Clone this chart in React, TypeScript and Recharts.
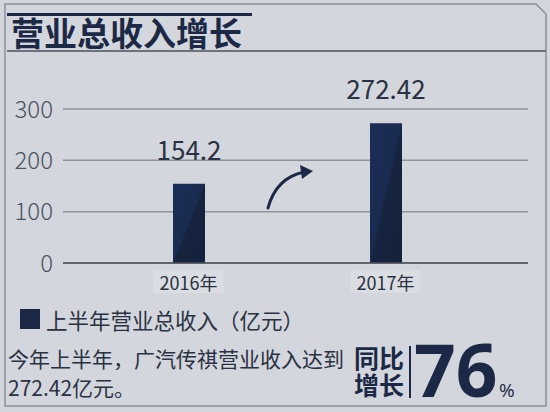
import { BarChart, Bar, XAxis, YAxis, CartesianGrid, LabelList, ReferenceLine } from 'recharts';

const years = ['2016年', '2017年'];
const revenue = [154.2, 272.42];
const yTicks = [0, 100, 200, 300];

const NAVY = '#1b2946';
const INK = '#2a3142';
const BG = '#d3d6dc';
const FONT = '"Noto Sans CJK SC", "Noto Sans", sans-serif';
const NUM_FONT = '"Open Sans", "Noto Sans", sans-serif';

const data = years.map((year, i) => ({ year, value: revenue[i] }));

function YearTick({ x, y, payload }: any) {
  return (
    <g>
      <rect x={x - 35} y={y - 1} width={70} height={23} fill="#dadde2" />
      <text x={x} y={y + 11} textAnchor="middle" dominantBaseline="central" fontSize={18} fill={INK} fontFamily={FONT}>
        {payload.value}
      </text>
    </g>
  );
}

export default function App() {
  return (
    <div style={{ position: 'absolute', left: 0, top: 0, width: 550, height: 412, background: BG, fontFamily: FONT, overflow: 'hidden' }}>
      <svg width={550} height={412} style={{ position: 'absolute', left: 0, top: 0 }}>
        <path d="M5,4 H536 L546,14 V406 H5 Z" fill="none" stroke="#8b9099" strokeWidth={1.5} />
        <rect x={7} y={13} width={245} height={3} fill={NAVY} />
        <line x1={7} y1={51} x2={546} y2={51} stroke="#4a505c" strokeWidth={1.5} />
        <path d="M268,208 Q276,178 304,172" fill="none" stroke={NAVY} strokeWidth={3} strokeLinecap="round" />
        <path d="M300,165 L313,171 L302,179 Z" fill={NAVY} />
        <line x1={410} y1={346} x2={410} y2={398} stroke={NAVY} strokeWidth={2} />
        <text x={354} y={368} fontSize={25} fontWeight={700} fill={NAVY} fontFamily={FONT}>同比</text>
        <text x={354} y={395} fontSize={25} fontWeight={700} fill={NAVY} fontFamily={FONT}>增长</text>
        <text x={414} y={397} fontSize={73} fontWeight={700} fill={NAVY} fontFamily={NUM_FONT}>76</text>
        <text x={499} y={397} fontSize={19} fill={NAVY} fontFamily={NUM_FONT}>%</text>
      </svg>

      <div style={{ position: 'absolute', left: 11, top: 12, fontSize: 33, fontWeight: 700, color: NAVY, lineHeight: '40px', whiteSpace: 'nowrap' }}>
        营业总收入增长
      </div>

      <div style={{ position: 'absolute', left: 0, top: 0 }}>
        <BarChart width={550} height={412} data={data} margin={{ top: 109, right: 22, bottom: 119, left: 8 }}>
          <defs>
            <linearGradient id="barFill" x1="0" y1="0" x2="1" y2="1">
              <stop offset="0%" stopColor="#1b2e57" />
              <stop offset="49%" stopColor="#1a2b50" />
              <stop offset="51%" stopColor="#16243f" />
              <stop offset="100%" stopColor="#14213c" />
            </linearGradient>
          </defs>
          <CartesianGrid vertical={false} stroke="#8e939c" strokeWidth={1.5} />
          <YAxis
            domain={[0, 300]}
            ticks={yTicks}
            width={55}
            tickLine={false}
            axisLine={false}
            tickMargin={4}
            tick={{ fontSize: 24, fill: '#4b5262', fontFamily: FONT, fontWeight: 300 }}
          />
          <XAxis
            dataKey="year"
            height={30}
            padding={{ left: 27, right: 44 }}
            tickLine={false}
            axisLine={false}
            tick={<YearTick />}
            interval={0}
          />
          <ReferenceLine y={0} stroke="#4a4f5a" strokeWidth={1.5} />
          <Bar dataKey="value" fill="url(#barFill)" barSize={32} isAnimationActive={false}>
            <LabelList dataKey="value" position="top" offset={24} fontSize={26} fill={INK} fontFamily={FONT} />
          </Bar>
        </BarChart>
      </div>

      <div style={{ position: 'absolute', left: 20, top: 309, width: 20, height: 20, background: NAVY }} />
      <div style={{ position: 'absolute', left: 46, top: 306, fontSize: 21.5, lineHeight: '28px', color: INK, whiteSpace: 'nowrap' }}>
        上半年营业总收入（亿元）
      </div>

      <div style={{ position: 'absolute', left: 8, top: 344, fontSize: 21, lineHeight: '29px', color: INK, whiteSpace: 'nowrap' }}>
        今年上半年，广汽传祺营业收入达到
        <br />
        272.42亿元。
      </div>
    </div>
  );
}
